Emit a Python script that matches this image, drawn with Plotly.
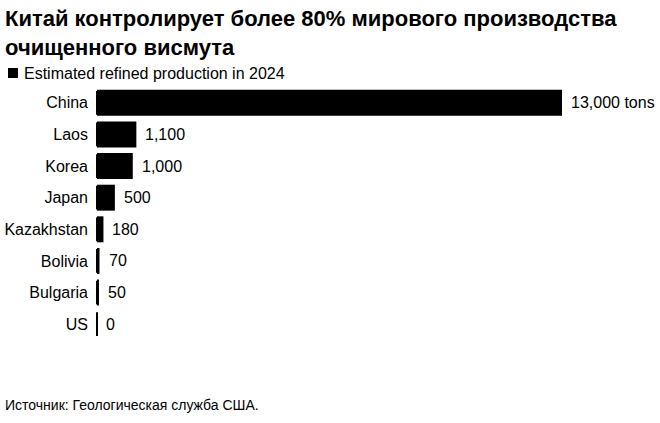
import plotly.graph_objects as go

countries = ["China", "Laos", "Korea", "Japan", "Kazakhstan", "Bolivia", "Bulgaria", "US"]
production = [13000, 1100, 1000, 500, 180, 70, 50, 0]
value_labels = ["13,000 tons", "1,100", "1,000", "500", "180", "70", "50", "0"]

title_text = "<b>Китай контролирует более 80% мирового производства<br>очищенного висмута</b>"
legend_text = "Estimated refined production in 2024"
source_text = "Источник: Геологическая служба США."

W, H = 660, 423
L, T, R, B = 97, 87, 0, 83
PW, PH = W - L - R, H - T - B
FONT = "Liberation Sans, Arial, Helvetica, sans-serif"

def px2x(px):
    return (px - L) / PW

def py2y(py):
    return (H - B - py) / PH

xmax = 13000 * PW / 465.0

fig = go.Figure()
fig.add_trace(go.Bar(
    x=production, y=countries, orientation="h",
    marker=dict(color="#000000", line=dict(width=0)),
    width=0.82, showlegend=False, hoverinfo="x+y",
))
# thin baseline tick for each row (visible minimum mark)
fig.add_trace(go.Scatter(
    x=[0] * len(countries), y=countries, mode="markers",
    marker=dict(symbol="line-ns", size=17, line=dict(width=2, color="#000000")),
    showlegend=False, hoverinfo="skip", cliponaxis=False,
))

for c, v, t in zip(countries, production, value_labels):
    fig.add_annotation(x=v, y=c, text=t, xanchor="left", yanchor="middle",
                       xshift=7, showarrow=False,
                       font=dict(family=FONT, size=16, color="#000000"))

# title
fig.add_annotation(xref="paper", yref="paper", x=px2x(3), y=py2y(4),
                   text=title_text, xanchor="left", yanchor="top", align="left",
                   showarrow=False,
                   font=dict(family=FONT, size=22, color="#000000"))
# legend
fig.add_shape(type="rect", xref="paper", yref="paper",
              x0=px2x(8), x1=px2x(18), y0=py2y(78), y1=py2y(68),
              fillcolor="#000000", line=dict(width=0))
fig.add_annotation(xref="paper", yref="paper", x=px2x(22), y=py2y(73),
                   text=legend_text, xanchor="left", yanchor="middle", showarrow=False,
                   font=dict(family=FONT, size=16, color="#000000"))
# source
fig.add_annotation(xref="paper", yref="paper", x=px2x(3), y=py2y(405),
                   text=source_text, xanchor="left", yanchor="middle", showarrow=False,
                   font=dict(family=FONT, size=14, color="#000000"))

fig.update_layout(
    width=W, height=H,
    margin=dict(l=L, r=R, t=T, b=B),
    paper_bgcolor="#ffffff", plot_bgcolor="#ffffff",
    xaxis=dict(range=[0, xmax], visible=False, fixedrange=True),
    yaxis=dict(autorange=False, range=[len(countries) - 0.5, -0.5], showgrid=False,
               showline=False, ticks="", ticklabelstandoff=8,
               tickfont=dict(family=FONT, size=16, color="#000000")),
    showlegend=False,
)

fig.write_html("out.html", config={"displayModeBar": False},
               post_script="document.body.style.margin='0';")
